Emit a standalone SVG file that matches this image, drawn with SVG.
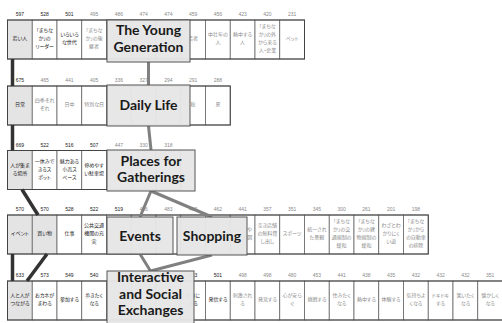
<svg xmlns="http://www.w3.org/2000/svg" width="502" height="323" viewBox="0 0 502 323">
<style>
  .cell { fill: #fff; stroke: #666; stroke-width: 0.8; }
  .hl { fill: #e4e4e4; }
  .row > rect.frame { fill: none; stroke: #444; stroke-width: 1; }
  .c { font-family: "Noto Sans CJK JP", sans-serif; font-size: 5px; text-anchor: middle; font-feature-settings: "palt"; }
  .n { font-family: "Liberation Sans", sans-serif; font-size: 5px; text-anchor: middle; }
  .d { fill: #222; }
  .g { fill: #8a8a8a; }
  .lab rect { fill: #e6e6e6; fill-opacity: 0.96; stroke: #555; stroke-width: 1; }
  .lab text { font-family: Lato, "Liberation Sans", sans-serif; font-weight: 700; font-size: 14px; fill: #1a1a1a; text-anchor: middle; }
  .k { stroke: #333; stroke-width: 3.5; fill: none; }
  .gc { stroke: #808080; stroke-width: 3; fill: none; }
</style>
<rect width="502" height="323" fill="#fff"/>

<!-- row 1 -->
<g id="row1" class="row">
  <rect class="cell hl" x="7.5" y="20" width="24.75" height="39"/>
  <rect class="cell" x="32.25" y="20" width="24.75" height="39"/>
  <rect class="cell" x="57" y="20" width="24.75" height="39"/>
  <rect class="cell" x="81.75" y="20" width="24.75" height="39"/>
  <rect class="cell" x="106.5" y="20" width="24.75" height="39"/>
  <rect class="cell" x="131.25" y="20" width="24.75" height="39"/>
  <rect class="cell" x="156" y="20" width="24.75" height="39"/>
  <rect class="cell" x="180.75" y="20" width="24.75" height="39"/>
  <rect class="cell" x="205.5" y="20" width="24.75" height="39"/>
  <rect class="cell" x="230.25" y="20" width="24.75" height="39"/>
  <rect class="cell" x="255" y="20" width="24.75" height="39"/>
  <rect class="cell" x="279.75" y="20" width="24.75" height="39"/>
  <rect class="frame" x="7.5" y="20" width="297" height="39"/>
  <g class="n">
    <text class="d" x="19.9" y="16">597</text><text class="d" x="44.6" y="16">528</text><text class="d" x="69.4" y="16">501</text>
    <text class="g" x="94.1" y="16">495</text><text class="g" x="118.9" y="16">486</text><text class="g" x="143.6" y="16">474</text>
    <text class="g" x="168.4" y="16">474</text><text class="g" x="193.1" y="16">459</text><text class="g" x="217.9" y="16">456</text>
    <text class="g" x="242.6" y="16">423</text><text class="g" x="267.4" y="16">420</text><text class="g" x="292.1" y="16">231</text>
  </g>
  <g class="c">
    <text class="d" x="19.9" y="40.3">若い人</text>
    <text class="d" x="44.6" y="32.3">「まちな<tspan x="44.6" dy="8">か」の</tspan><tspan x="44.6" dy="8">リーダー</tspan></text>
    <text class="d" x="69.4" y="36.3">いろいろ<tspan x="69.4" dy="8">な世代</tspan></text>
    <text class="g" x="94.1" y="32.3">「まちな<tspan x="94.1" dy="8">か」の後</tspan><tspan x="94.1" dy="8">継者</tspan></text>
    <text class="g" x="193.1" y="40.3">若者</text>
    <text class="g" x="217.9" y="36.3">中壮年の<tspan x="217.9" dy="8">人</tspan></text>
    <text class="g" x="242.6" y="36.3">熱中する<tspan x="242.6" dy="8">人</tspan></text>
    <text class="g" x="267.4" y="28.3">「まちな<tspan x="267.4" dy="8">か」の外</tspan><tspan x="267.4" dy="8">から来る</tspan><tspan x="267.4" dy="8">人・企業</tspan></text>
    <text class="g" x="292.1" y="40.3">ペット</text>
  </g>
</g>

<!-- row 2 -->
<g id="row2" class="row">
  <rect class="cell hl" x="7.5" y="86" width="24.75" height="39"/>
  <rect class="cell" x="32.25" y="86" width="24.75" height="39"/>
  <rect class="cell" x="57" y="86" width="24.75" height="39"/>
  <rect class="cell" x="81.75" y="86" width="24.75" height="39"/>
  <rect class="cell" x="106.5" y="86" width="24.75" height="39"/>
  <rect class="cell" x="131.25" y="86" width="24.75" height="39"/>
  <rect class="cell" x="156" y="86" width="24.75" height="39"/>
  <rect class="cell" x="180.75" y="86" width="24.75" height="39"/>
  <rect class="cell" x="205.5" y="86" width="24.75" height="39"/>
  <rect class="frame" x="7.5" y="86" width="222.75" height="39"/>
  <g class="n">
    <text class="d" x="19.9" y="82">675</text><text class="g" x="44.6" y="82">465</text><text class="g" x="69.4" y="82">441</text>
    <text class="g" x="94.1" y="82">405</text><text class="g" x="118.9" y="82">336</text><text class="g" x="143.6" y="82">327</text>
    <text class="g" x="168.4" y="82">294</text><text class="g" x="193.1" y="82">291</text><text class="g" x="217.9" y="82">288</text>
  </g>
  <g class="c">
    <text class="d" x="19.9" y="106.3">日常</text>
    <text class="g" x="44.6" y="102.3">四季それ<tspan x="44.6" dy="8">ぞれ</tspan></text>
    <text class="g" x="69.4" y="106.3">日中</text>
    <text class="g" x="94.1" y="106.3">特別な日</text>
    <text class="g" x="193.1" y="106.3">秋</text>
    <text class="g" x="217.9" y="106.3">夏</text>
  </g>
</g>

<!-- row 3 -->
<g id="row3" class="row">
  <rect class="cell hl" x="7.5" y="150.5" width="24.75" height="39"/>
  <rect class="cell" x="32.25" y="150.5" width="24.75" height="39"/>
  <rect class="cell" x="57" y="150.5" width="24.75" height="39"/>
  <rect class="cell" x="81.75" y="150.5" width="24.75" height="39"/>
  <rect class="cell" x="106.5" y="150.5" width="24.75" height="39"/>
  <rect class="cell" x="131.25" y="150.5" width="24.75" height="39"/>
  <rect class="cell" x="156" y="150.5" width="24.75" height="39"/>
  <rect class="frame" x="7.5" y="150.5" width="173.25" height="39"/>
  <g class="n">
    <text class="d" x="19.9" y="146.5">669</text><text class="d" x="44.6" y="146.5">522</text><text class="d" x="69.4" y="146.5">516</text>
    <text class="d" x="94.1" y="146.5">507</text><text class="g" x="118.9" y="146.5">447</text><text class="g" x="143.6" y="146.5">330</text>
    <text class="g" x="168.4" y="146.5">318</text>
  </g>
  <g class="c">
    <text class="d" x="19.9" y="166.8">人が集ま<tspan x="19.9" dy="8">る場所</tspan></text>
    <text class="d" x="44.6" y="162.8">一休みで<tspan x="44.6" dy="8">きるス</tspan><tspan x="44.6" dy="8">ポット</tspan></text>
    <text class="d" x="69.4" y="162.8">魅力ある<tspan x="69.4" dy="8">小売ス</tspan><tspan x="69.4" dy="8">ペース</tspan></text>
    <text class="d" x="94.1" y="166.8">停めやす<tspan x="94.1" dy="8">い駐車場</tspan></text>
  </g>
</g>

<!-- row 4 -->
<g id="row4" class="row">
  <rect class="cell hl" x="7.5" y="215" width="24.75" height="39"/>
  <rect class="cell hl" x="32.25" y="215" width="24.75" height="39"/>
  <rect class="cell" x="57" y="215" width="24.75" height="39"/>
  <rect class="cell" x="81.75" y="215" width="24.75" height="39"/>
  <rect class="cell" x="106.5" y="215" width="24.75" height="39"/>
  <rect class="cell" x="131.25" y="215" width="24.75" height="39"/>
  <rect class="cell" x="156" y="215" width="24.75" height="39"/>
  <rect class="cell" x="180.75" y="215" width="24.75" height="39"/>
  <rect class="cell" x="205.5" y="215" width="24.75" height="39"/>
  <rect class="cell" x="230.25" y="215" width="24.75" height="39"/>
  <rect class="cell" x="255" y="215" width="24.75" height="39"/>
  <rect class="cell" x="279.75" y="215" width="24.75" height="39"/>
  <rect class="cell" x="304.5" y="215" width="24.75" height="39"/>
  <rect class="cell" x="329.25" y="215" width="24.75" height="39"/>
  <rect class="cell" x="354" y="215" width="24.75" height="39"/>
  <rect class="cell" x="378.75" y="215" width="24.75" height="39"/>
  <rect class="cell" x="403.5" y="215" width="24.75" height="39"/>
  <rect class="frame" x="7.5" y="215" width="420.75" height="39"/>
  <g class="n">
    <text class="d" x="19.9" y="211">570</text><text class="d" x="44.6" y="211">570</text><text class="d" x="69.4" y="211">528</text>
    <text class="d" x="94.1" y="211">522</text><text class="d" x="118.9" y="211">519</text><text class="g" x="143.6" y="211">486</text>
    <text class="g" x="168.4" y="211">483</text><text class="g" x="193.1" y="211">462</text><text class="g" x="217.9" y="211">462</text>
    <text class="g" x="242.6" y="211">441</text><text class="g" x="267.4" y="211">357</text><text class="g" x="292.1" y="211">351</text>
    <text class="g" x="316.9" y="211">345</text><text class="g" x="341.6" y="211">300</text><text class="g" x="366.4" y="211">261</text>
    <text class="g" x="391.1" y="211">201</text><text class="g" x="415.9" y="211">198</text>
  </g>
  <g class="c">
    <text class="d" x="19.9" y="235.3">イベント</text>
    <text class="d" x="44.6" y="235.3">買い物</text>
    <text class="d" x="69.4" y="235.3">仕事</text>
    <text class="d" x="94.1" y="227.3">公共交通<tspan x="94.1" dy="8">機関の充</tspan><tspan x="94.1" dy="8">実</tspan></text>
    <text class="g" x="242.6" y="231.3">わかりや<tspan x="242.6" dy="8">すい地図</tspan></text>
    <text class="g" x="267.4" y="227.3">空き店舗<tspan x="267.4" dy="8">の無料貸</tspan><tspan x="267.4" dy="8">し出し</tspan></text>
    <text class="g" x="292.1" y="235.3">スポーツ</text>
    <text class="g" x="316.9" y="231.3">統一され<tspan x="316.9" dy="8">た景観</tspan></text>
    <text class="g" x="341.6" y="223.3">「まちな<tspan x="341.6" dy="8">か」の交</tspan><tspan x="341.6" dy="8">通規制の</tspan><tspan x="341.6" dy="8">緩和</tspan></text>
    <text class="g" x="366.4" y="223.3">「まちな<tspan x="366.4" dy="8">か」の建</tspan><tspan x="366.4" dy="8">物規制の</tspan><tspan x="366.4" dy="8">緩和</tspan></text>
    <text class="g" x="391.1" y="227.3">わざとわ<tspan x="391.1" dy="8">かりにく</tspan><tspan x="391.1" dy="8">い道</tspan></text>
    <text class="g" x="415.9" y="223.3">「まちな<tspan x="415.9" dy="8">か」から</tspan><tspan x="415.9" dy="8">の自動車</tspan><tspan x="415.9" dy="8">の排除</tspan></text>
  </g>
</g>

<!-- row 5 -->
<g id="row5" class="row">
  <rect class="cell hl" x="7.5" y="281" width="24.75" height="39"/>
  <rect class="cell" x="32.25" y="281" width="24.75" height="39"/>
  <rect class="cell" x="57" y="281" width="24.75" height="39"/>
  <rect class="cell" x="81.75" y="281" width="24.75" height="39"/>
  <rect class="cell" x="106.5" y="281" width="24.75" height="39"/>
  <rect class="cell" x="131.25" y="281" width="24.75" height="39"/>
  <rect class="cell" x="156" y="281" width="24.75" height="39"/>
  <rect class="cell" x="180.75" y="281" width="24.75" height="39"/>
  <rect class="cell" x="205.5" y="281" width="24.75" height="39"/>
  <rect class="cell" x="230.25" y="281" width="24.75" height="39"/>
  <rect class="cell" x="255" y="281" width="24.75" height="39"/>
  <rect class="cell" x="279.75" y="281" width="24.75" height="39"/>
  <rect class="cell" x="304.5" y="281" width="24.75" height="39"/>
  <rect class="cell" x="329.25" y="281" width="24.75" height="39"/>
  <rect class="cell" x="354" y="281" width="24.75" height="39"/>
  <rect class="cell" x="378.75" y="281" width="24.75" height="39"/>
  <rect class="cell" x="403.5" y="281" width="24.75" height="39"/>
  <rect class="cell" x="428.25" y="281" width="24.75" height="39"/>
  <rect class="cell" x="453" y="281" width="24.75" height="39"/>
  <rect class="cell" x="477.75" y="281" width="24.75" height="39"/>
  <rect class="frame" x="7.5" y="281" width="495" height="39"/>
  <g class="n">
    <text class="d" x="19.9" y="277">633</text><text class="d" x="44.6" y="277">573</text><text class="d" x="69.4" y="277">549</text>
    <text class="d" x="94.1" y="277">540</text><text class="d" x="193.1" y="277">513</text><text class="d" x="217.9" y="277">501</text>
    <text class="g" x="242.6" y="277">498</text><text class="g" x="267.4" y="277">498</text><text class="g" x="292.1" y="277">480</text>
    <text class="g" x="316.9" y="277">453</text><text class="g" x="341.6" y="277">441</text><text class="g" x="366.4" y="277">438</text>
    <text class="g" x="391.1" y="277">435</text><text class="g" x="415.9" y="277">432</text><text class="g" x="440.6" y="277">432</text>
    <text class="g" x="465.4" y="277">432</text><text class="g" x="490.1" y="277">351</text>
  </g>
  <g class="c">
    <text class="d" x="19.9" y="297.3">人と人が<tspan x="19.9" dy="8">つながる</tspan></text>
    <text class="d" x="44.6" y="297.3">おカネが<tspan x="44.6" dy="8">まわる</tspan></text>
    <text class="d" x="69.4" y="301.3">参加する</text>
    <text class="d" x="94.1" y="297.3">歩きたく<tspan x="94.1" dy="8">なる</tspan></text>
    <text class="d" x="193.1" y="297.3">好きに<tspan x="193.1" dy="8">なる</tspan></text>
    <text class="d" x="217.9" y="301.3">発信する</text>
    <text class="g" x="242.6" y="297.3">刺激され<tspan x="242.6" dy="8">る</tspan></text>
    <text class="g" x="267.4" y="301.3">発見する</text>
    <text class="g" x="292.1" y="297.3">心が安ら<tspan x="292.1" dy="8">ぐ</tspan></text>
    <text class="g" x="316.9" y="301.3">挑戦する</text>
    <text class="g" x="341.6" y="297.3">住みたく<tspan x="341.6" dy="8">なる</tspan></text>
    <text class="g" x="366.4" y="301.3">熱中する</text>
    <text class="g" x="391.1" y="301.3">体験する</text>
    <text class="g" x="415.9" y="297.3">気持ちよ<tspan x="415.9" dy="8">くなる</tspan></text>
    <text class="g" x="440.6" y="297.3">ドキドキ<tspan x="440.6" dy="8">する</tspan></text>
    <text class="g" x="465.4" y="297.3">笑いたく<tspan x="465.4" dy="8">なる</tspan></text>
    <text class="g" x="490.1" y="297.3">懐かしく<tspan x="490.1" dy="8">なる</tspan></text>
  </g>
</g>

<!-- connectors -->
<g id="connectors">
  <line class="k" x1="12.5" y1="59" x2="12.5" y2="86"/>
  <line class="k" x1="12.5" y1="125" x2="12.5" y2="150.5"/>
  <line class="k" x1="22" y1="189.5" x2="38" y2="215"/>
  <line class="k" x1="12.5" y1="254" x2="12.5" y2="281"/>
  <line class="k" x1="47" y1="254" x2="27" y2="281"/>
  <line class="gc" x1="148.5" y1="62" x2="148.5" y2="85"/>
  <line class="gc" x1="148.5" y1="126" x2="151" y2="150"/>
  <line class="gc" x1="151" y1="191" x2="140" y2="217"/>
  <line class="gc" x1="151" y1="191" x2="212" y2="217"/>
  <line class="gc" x1="140" y1="254" x2="150.5" y2="271"/>
  <line class="gc" x1="212" y1="255" x2="150.5" y2="271"/>
</g>

<!-- category labels -->
<g id="young" class="lab">
  <rect x="107" y="20" width="83" height="42"/>
  <text x="148.5" y="35">The Young</text>
  <text x="148.5" y="52">Generation</text>
</g>
<g id="daily" class="lab">
  <rect x="107" y="85" width="83" height="41"/>
  <text x="148.5" y="110">Daily Life</text>
</g>
<g id="places" class="lab">
  <rect x="107" y="150" width="88" height="41"/>
  <text x="151" y="165.5">Places for</text>
  <text x="151" y="182">Gatherings</text>
</g>
<g id="events" class="lab">
  <rect x="107" y="217" width="66" height="37"/>
  <text x="140" y="240.5">Events</text>
</g>
<g id="shopping" class="lab">
  <rect x="177" y="217" width="70" height="38"/>
  <text x="212" y="240.5">Shopping</text>
</g>
<g id="exchanges" class="lab">
  <rect x="107" y="271" width="87" height="53"/>
  <text x="150.5" y="282">Interactive</text>
  <text x="150.5" y="298.5">and Social</text>
  <text x="150.5" y="315">Exchanges</text>
</g>
</svg>
